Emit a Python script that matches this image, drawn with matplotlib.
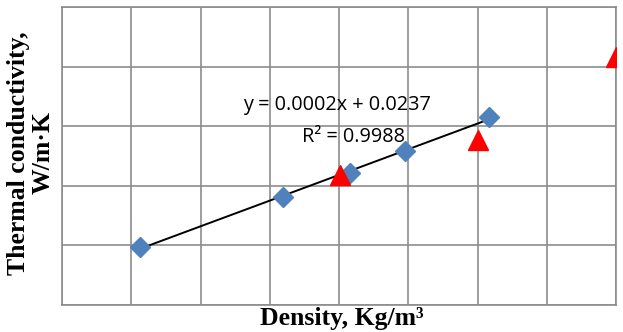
import matplotlib
matplotlib.use("Agg")
import matplotlib.pyplot as plt
import numpy as np

# Blue diamonds (fitted series)
density_a = [11.3, 31.9, 41.6, 49.5, 61.7]
conduct_a = [0.02487, 0.02906, 0.03107, 0.03292, 0.03577]

# Red triangles
density_b = [40.1, 60.1, 80.0]
conduct_b = [0.0309, 0.03384, 0.0408]

eq_text = "y = 0.0002x + 0.0237"
r2_text = "R² = 0.9988"

fig = plt.figure(figsize=(6.23, 3.32), dpi=100)
ax = fig.add_axes([62 / 623, 27 / 332, 554 / 623, 298 / 332])

grid_col = "#8c8c8c"
ax.set_xlim(0, 80)
ax.set_ylim(0.020, 0.045)
ax.set_xticks(np.arange(0, 81, 10))
ax.set_yticks(np.arange(0.020, 0.0451, 0.005))
ax.grid(True, color=grid_col, linewidth=1.2)
ax.tick_params(length=0, labelbottom=False, labelleft=False)
for s in ax.spines.values():
    s.set_color(grid_col)
    s.set_linewidth(1.2)
ax.set_axisbelow(True)

# linear trendline through the blue series
k, b = np.polyfit(density_a, conduct_a, 1)
xs = np.array([min(density_a), max(density_a)])
ax.plot(xs, k * xs + b, color="black", linewidth=1.4, zorder=3)

ax.plot(density_a, conduct_a, linestyle="none", marker="D", markersize=10.5,
        color="#4f81bd", zorder=4)
ax.plot(density_b, conduct_b, linestyle="none", marker="^", markersize=14,
        color="#ff0000", zorder=5)

fig.text(337 / 623, 1 - 105 / 332, eq_text, ha="center", va="center",
         fontsize=14.3, family="Open Sans")
fig.text(353 / 623, 1 - 137 / 332, r2_text, ha="center", va="center",
         fontsize=14.3, family="Open Sans")

fig.text(342 / 623, 1 - 318 / 332, "Density, Kg/m³", ha="center", va="center",
         fontsize=18.5, family="Liberation Serif", fontweight="bold")
fig.text(31 / 623, 1 - 153 / 332, "Thermal conductivity,\nW/m·K", ha="center", va="center",
         rotation=90, fontsize=18.5, family="Liberation Serif", fontweight="bold",
         linespacing=1.1)

fig.savefig("out.png", dpi=100)
